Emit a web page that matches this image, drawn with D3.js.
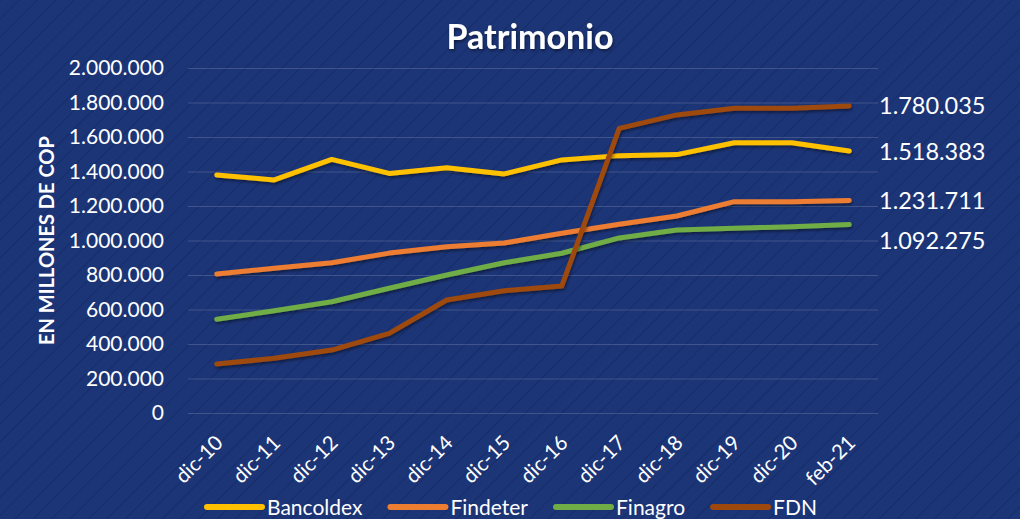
<!DOCTYPE html>
<html>
<head>
<meta charset="utf-8">
<script src="https://cdn.jsdelivr.net/npm/d3@7"></script>
<style>
  html, body { margin: 0; padding: 0; background: #1c3577; }
  svg { display: block; font-family: Lato, "Open Sans", sans-serif; }
</style>
</head>
<body>
<script>
// categories and series (values in millones de COP)
var periods = ["dic-10", "dic-11", "dic-12", "dic-13", "dic-14", "dic-15",
               "dic-16", "dic-17", "dic-18", "dic-19", "dic-20", "feb-21"];
var bancoldex = [1380000, 1351000, 1470000, 1389000, 1422000, 1386000,
                 1467000, 1492000, 1498000, 1567000, 1567000, 1518383];
var findeter  = [806000, 839000, 871000, 927000, 964000, 986000,
                 1042000, 1094000, 1142000, 1225000, 1225000, 1231711];
var finagro   = [543000, 593000, 645000, 723000, 800000, 871000,
                 926000, 1015000, 1061000, 1071000, 1080000, 1092275];
var fdn       = [284000, 317000, 365000, 462000, 655000, 709000,
                 736000, 1650000, 1728000, 1767000, 1767000, 1780035];
var seriesNames = ["Bancoldex", "Findeter", "Finagro", "FDN"];
var seriesColors = ["#ffc000", "#ed7d31", "#70ad47", "#9e480e"];
var yTicks = [0, 200000, 400000, 600000, 800000, 1000000,
              1200000, 1400000, 1600000, 1800000, 2000000];

var W = 1020, H = 519;
var margin = {top: 68, right: 142, bottom: 106, left: 188},
    width = W - margin.left - margin.right,
    height = H - margin.top - margin.bottom;

var fmt = d3.formatLocale({decimal: ",", thousands: ".", grouping: [3], currency: ["$", ""]}).format(",d");

var svg = d3.select("body").append("svg")
    .attr("width", W)
    .attr("height", H);

// background with faint diagonal stripes
var defs = svg.append("defs");
var pat = defs.append("pattern")
    .attr("id", "stripes")
    .attr("patternUnits", "userSpaceOnUse")
    .attr("width", 13).attr("height", 13)
    .attr("patternTransform", "rotate(45)");
pat.append("rect").attr("width", 13).attr("height", 13).attr("fill", "#1c3577");
pat.append("rect").attr("width", 1.2).attr("height", 13).attr("fill", "#162d6b");

var shadow = defs.append("filter").attr("id", "shadow")
    .attr("x", "-10%").attr("y", "-10%").attr("width", "120%").attr("height", "130%");
shadow.append("feDropShadow")
    .attr("dx", 1).attr("dy", 2).attr("stdDeviation", 1.5)
    .attr("flood-color", "#000").attr("flood-opacity", 0.45);

svg.append("rect").attr("width", W).attr("height", H).attr("fill", "url(#stripes)");

var g = svg.append("g")
    .attr("transform", "translate(" + margin.left + "," + margin.top + ")");

// scales
var x = d3.scalePoint().domain(periods).range([0, width]).padding(0.5);
var y = d3.scaleLinear().domain([0, 2000000]).range([height, 0]);

// gridlines
g.append("g")
    .call(d3.axisLeft(y).tickValues(yTicks).tickSize(-width).tickFormat(""))
    .call(function(s) { s.select(".domain").remove(); })
    .selectAll("line")
    .attr("stroke", "#ffffff")
    .attr("stroke-opacity", 0.16);

// y axis labels
g.append("g")
    .call(d3.axisLeft(y).tickValues(yTicks).tickSize(0).tickPadding(24).tickFormat(fmt))
    .call(function(s) { s.select(".domain").remove(); })
    .selectAll("text")
    .attr("fill", "#ffffff")
    .style("font-size", "21px")
    .style("font-family", "Lato, sans-serif");

// x axis labels, rotated
var xa = g.append("g")
    .attr("transform", "translate(0," + height + ")")
    .call(d3.axisBottom(x).tickSize(0));
xa.select(".domain").remove();
xa.selectAll("text")
    .attr("fill", "#ffffff")
    .style("font-size", "20.5px")
    .style("font-family", "Lato, sans-serif")
    .attr("text-anchor", "end")
    .attr("dy", null)
    .attr("y", null)
    .attr("transform", "translate(7,31) rotate(-45)");

// lines
var allSeries = [bancoldex, findeter, finagro, fdn];
var line = d3.line()
    .x(function(d, i) { return x(periods[i]); })
    .y(function(d) { return y(d); });

allSeries.forEach(function(vals, k) {
    g.append("path")
        .datum(vals)
        .attr("fill", "none")
        .attr("stroke", seriesColors[k])
        .attr("stroke-width", 5)
        .attr("stroke-linecap", "round")
        .attr("stroke-linejoin", "round")
        .attr("filter", "url(#shadow)")
        .attr("d", line);
});

// end value labels, pushed apart so they don't overlap
var ends = allSeries.map(function(vals) {
    return {v: vals[vals.length - 1], y: y(vals[vals.length - 1])};
}).sort(function(a, b) { return a.y - b.y; });
for (var i = 1; i < ends.length; i++) {
    if (ends[i].y - ends[i - 1].y < 40) ends[i].y = ends[i - 1].y + 40;
}
g.selectAll(".endlabel")
    .data(ends)
    .enter().append("text")
    .attr("class", "endlabel")
    .attr("x", width + 1)
    .attr("y", function(d) { return d.y; })
    .attr("dy", "0.36em")
    .attr("fill", "#ffffff")
    .style("font-size", "23.5px")
    .text(function(d) { return fmt(d.v); });

// title
svg.append("text")
    .attr("x", 530)
    .attr("y", 49)
    .attr("text-anchor", "middle")
    .attr("fill", "#ffffff")
    .attr("filter", "url(#shadow)")
    .style("font-size", "34px")
    .style("font-weight", "bold")
    .text("Patrimonio");

// y axis title
svg.append("text")
    .attr("transform", "translate(54," + (margin.top + height / 2) + ") rotate(-90)")
    .attr("text-anchor", "middle")
    .attr("fill", "#ffffff")
    .style("font-size", "20px")
    .style("font-weight", "bold")
    .text("EN MILLONES DE COP");

// legend
var legend = svg.append("g").attr("transform", "translate(0,507)");
var lx = 207;
seriesNames.forEach(function(name, k) {
    var item = legend.append("g").attr("transform", "translate(" + lx + ",0)");
    item.append("line")
        .attr("x1", 0).attr("x2", 55)
        .attr("y1", 0).attr("y2", 0)
        .attr("stroke", seriesColors[k])
        .attr("stroke-width", 6)
        .attr("stroke-linecap", "round");
    var t = item.append("text")
        .attr("x", 60)
        .attr("dy", "0.36em")
        .attr("fill", "#ffffff")
        .style("font-size", "21px")
        .text(name);
    lx += 60 + t.node().getComputedTextLength() + 28;
});
</script>
</body>
</html>
